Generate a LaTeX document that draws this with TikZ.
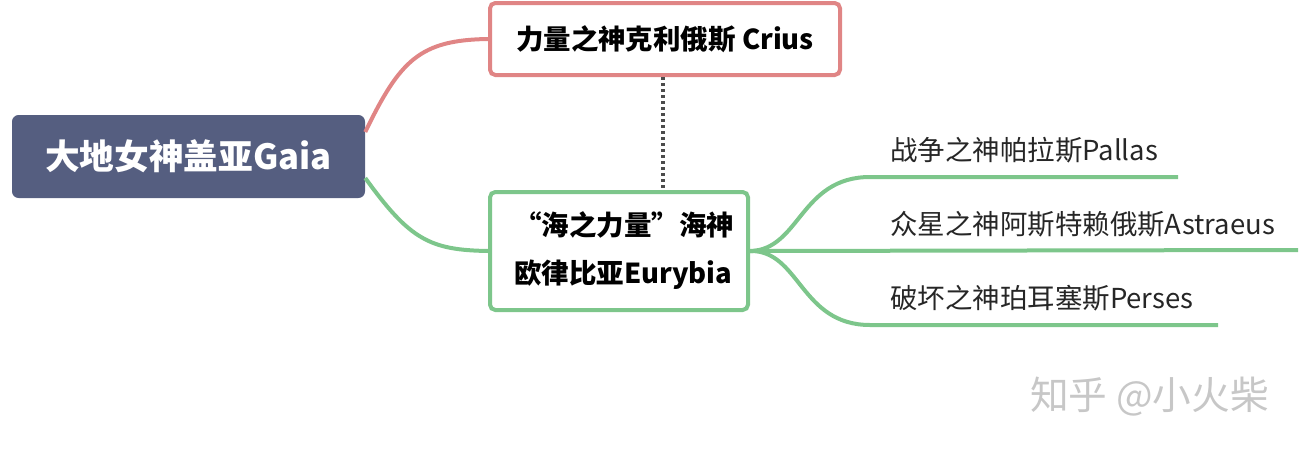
\documentclass[tikz,border=0pt]{standalone}
\usepackage{fontspec}
\setmainfont{Noto Sans CJK SC}
\begin{document}
\begin{tikzpicture}[x=0.75pt,y=-0.75pt,
  box/.style={draw,line width=3pt,rounded corners=4pt,fill=white,inner sep=0pt},
  leaf/.style={anchor=west,font=\fontsize{20.6}{24}\selectfont,text=black!85,inner sep=0pt},
  ln/.style={line width=3pt}]
\definecolor{rootc}{HTML}{555E80}
\definecolor{pinkc}{HTML}{E08585}
\definecolor{greenc}{HTML}{7DC68B}
\useasboundingbox (0,0) rectangle (1308,450);
\node[fill=rootc,rounded corners=5pt,minimum width=353*0.75pt,minimum height=83*0.75pt,text=white,font=\fontsize{26}{30}\selectfont\bfseries] (root) at (188.5,156.5) {大地女神盖亚Gaia};
\node[box,draw=pinkc,minimum width=350*0.75pt,minimum height=72*0.75pt,font=\fontsize{20.6}{24}\selectfont\bfseries] (crius) at (665,39) {力量之神克利俄斯 Crius};
\node[box,draw=greenc,minimum width=258*0.75pt,minimum height=118*0.75pt] (eury) at (619,251) {};
\node[anchor=west,inner sep=0pt,align=left,font=\fontsize{20.6}{36}\selectfont\bfseries] (eurytxt) at (514,251) {“海之力量”海神\\欧律比亚Eurybia};
\draw[gray!60!black,line width=2.5pt,dotted] (crius.south -| 663,0) -- (eury.north -| 663,0);
\draw[ln,pinkc] (root.east |- 0,132) .. controls (400,60) and (420,40) .. (crius.west);
\draw[ln,greenc] (root.east |- 0,178) .. controls (410,240) and (430,250) .. (eury.west);
\coordinate (p1) at (1178,177);
\coordinate (p2) at (1298,250);
\coordinate (p3) at (1218,325);
\draw[ln,greenc] (eury.east) .. controls (800,250) and (800,177) .. (870,177) -- (p1);
\draw[ln,greenc] (eury.east) -- (p2);
\draw[ln,greenc] (eury.east) .. controls (800,250) and (800,325) .. (870,325) -- (p3);
\node[leaf] (t1) at (890,150) {战争之神帕拉斯Pallas};
\node[leaf] (t2) at (890,224) {众星之神阿斯特赖俄斯Astraeus};
\node[leaf] (t3) at (890,298) {破坏之神珀耳塞斯Perses};
\node[anchor=west,inner sep=0pt,text=black!22,font=\fontsize{29}{32}\selectfont] (wm) at (1030,397) {知乎 @小火柴};
\end{tikzpicture}
\end{document}
